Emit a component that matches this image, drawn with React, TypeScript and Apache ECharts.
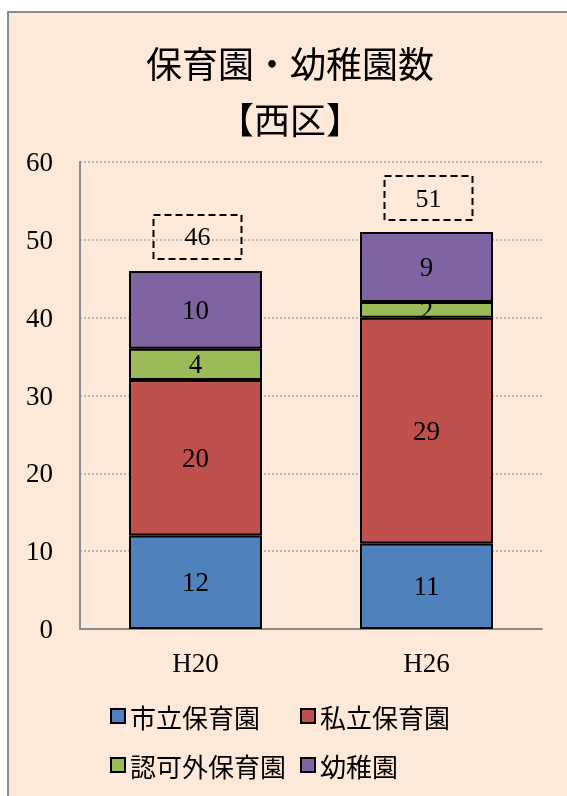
import React, { useEffect, useRef } from "react";
import * as echarts from "echarts";

const categories = ["H20", "H26"];
const seriesNames = ["市立保育園", "私立保育園", "認可外保育園", "幼稚園"];
const cityNursery = [12, 11];
const privateNursery = [20, 29];
const unlicensedNursery = [4, 2];
const kindergarten = [10, 9];
const colors = ["#4F81BD", "#C0504D", "#9BBB59", "#8064A2"];

const serif = "'Liberation Serif', 'DejaVu Serif', serif";
const cjk = "'Noto Sans CJK JP', sans-serif";

export default function App() {
  const ref = useRef<HTMLDivElement>(null);
  useEffect(() => {
    if (!ref.current) return;
    const chart = echarts.init(ref.current, undefined, { renderer: "svg" });
    const values = [cityNursery, privateNursery, unlicensedNursery, kindergarten];
    const totals = categories.map((_, i) => values.reduce((s, arr) => s + arr[i], 0));
    const barSeries = seriesNames.map((name, k) => ({
      name,
      type: "bar",
      stack: "total",
      barWidth: 133,
      data: values[k],
      itemStyle: { color: colors[k], borderColor: "#000", borderWidth: 2 },
      label: {
        show: true,
        position: "inside",
        color: "#000",
        fontFamily: serif,
        fontSize: 27,
      },
      emphasis: { disabled: true },
    }));
    const legendCommon = {
      orient: "vertical",
      top: 703,
      itemGap: 23,
      itemWidth: 14,
      itemHeight: 14,
      icon: "rect",
      padding: 0,
      textStyle: { fontFamily: cjk, fontSize: 26, lineHeight: 26, color: "#000" },
    };
    chart.setOption({
      animation: false,
      backgroundColor: "transparent",
      graphic: [
        {
          type: "rect",
          z: -10,
          silent: true,
          shape: { x: 8, y: 12, width: 700, height: 900 },
          style: { fill: "#FDE9D9", stroke: "#8C8C8C", lineWidth: 2 },
        },
      ],
      title: {
        text: "保育園・幼稚園数\n【西区】",
        left: 290,
        top: 34,
        textAlign: "center",
        padding: 0,
        textStyle: {
          fontFamily: cjk,
          fontSize: 36,
          fontWeight: "normal",
          color: "#000",
          lineHeight: 56,
        },
      },
      legend: [
        { ...legendCommon, data: [seriesNames[0], seriesNames[2]], left: 110 },
        { ...legendCommon, data: [seriesNames[1], seriesNames[3]], left: 300 },
      ],
      grid: { left: 80, right: 25, top: 162, bottom: 167 },
      xAxis: {
        type: "category",
        data: categories,
        axisLine: { lineStyle: { color: "#8C8C8C", width: 2 } },
        axisTick: { show: false },
        axisLabel: { fontFamily: serif, fontSize: 27, lineHeight: 27, color: "#000", margin: 20 },
      },
      yAxis: {
        type: "value",
        min: 0,
        max: 60,
        interval: 10,
        axisLine: { show: true, lineStyle: { color: "#8C8C8C", width: 2 } },
        axisTick: { show: false },
        axisLabel: { fontFamily: serif, fontSize: 27, color: "#000", margin: 27 },
        splitLine: { lineStyle: { color: "#A6A6A6", width: 1.5, type: [2, 2] } },
      },
      series: [
        ...barSeries,
        {
          name: "合計",
          type: "bar",
          stack: "total",
          barWidth: 133,
          data: categories.map(() => 0),
          itemStyle: { color: "transparent", borderWidth: 0 },
          label: {
            show: true,
            position: "top",
            distance: 12,
            offset: [2, 0],
            formatter: (p: any) => String(totals[p.dataIndex]),
            color: "#000",
            fontFamily: serif,
            fontSize: 26,
            lineHeight: 24,
            width: 88,
            padding: [10, 0, 10, 0],
            align: "center",
            borderColor: "#000",
            borderWidth: 2,
            borderType: [7, 4],
          },
          emphasis: { disabled: true },
        },
      ],
    });
    return () => chart.dispose();
  }, []);
  return (
    <div
      ref={ref}
      style={{ position: "fixed", left: 0, top: 0, width: 567, height: 796 }}
    />
  );
}
